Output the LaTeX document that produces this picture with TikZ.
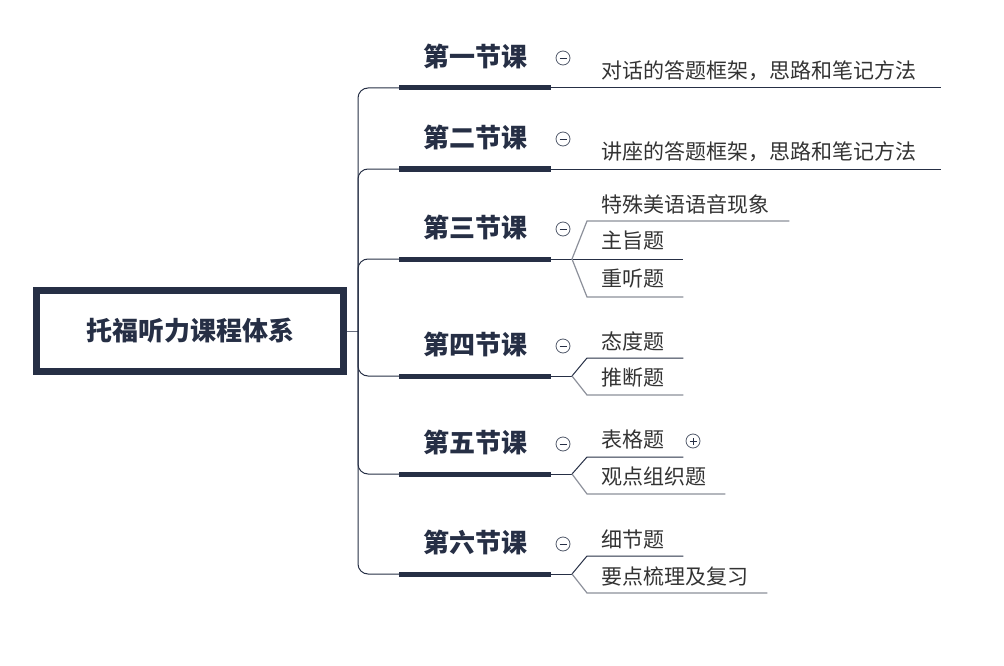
\documentclass[tikz,border=0pt]{standalone}
\usepackage{fontspec}
\newfontfamily\cjk{Noto Sans CJK SC}
\definecolor{navy}{HTML}{262F45}
\definecolor{greyline}{HTML}{8C909A}
\definecolor{txt}{HTML}{333333}
\begin{document}
\begin{tikzpicture}[x=1pt,y=-1pt,
  root/.style={draw=navy,line width=7pt,minimum width=307pt,minimum height=81pt,
    font=\cjk\bfseries\fontsize{26}{26}\selectfont,text=navy},
  lesson/.style={font=\cjk\bfseries\fontsize{26}{26}\selectfont,text=navy,inner sep=0pt},
  topic/.style={font=\cjk\fontsize{21}{21}\selectfont,text=txt,anchor=west,inner sep=0pt},
  trunk/.style={draw=navy,line width=1pt,rounded corners=10pt},
  bar/.style={draw=navy,line width=5pt},
  twig/.style={draw=navy,line width=1pt},
  pale/.style={draw=greyline,line width=1.2pt},
  fold/.style={circle,draw=navy!80,line width=0.8pt,minimum size=14pt,inner sep=0pt,
    path picture={\draw[navy,line width=0.8pt]
      ([xshift=-3.5pt]path picture bounding box.center) --
      ([xshift=3.5pt]path picture bounding box.center);}},
  unfold/.style={fold,path picture={\draw[navy,line width=0.8pt]
      ([xshift=-3.5pt]path picture bounding box.center) --
      ([xshift=3.5pt]path picture bounding box.center)
      ([yshift=-3.5pt]path picture bounding box.center) --
      ([yshift=3.5pt]path picture bounding box.center);}}]
\useasboundingbox (0,0) rectangle (1004,666);

% root and trunk
\node[root] (R) at (190,331) {托福听力课程体系};
\coordinate (J) at (358,331);
\draw[draw=navy!70,line width=1pt] (R.east) -- (J);

% lessons
\foreach \i/\name/\y in {1/第一节课/88,2/第二节课/169,3/第三节课/259,
                         4/第四节课/376,5/第五节课/474,6/第六节课/574}{
  \coordinate (bs\i) at (399,\y);
  \coordinate (be\i) at (551,\y);
  \node[lesson] (L\i) at (475,\y-32) {\name};
  \node[fold] (F\i) at (563,\y-30) {};
  \draw[trunk] (J) |- (bs\i);
  \draw[bar] (bs\i) -- (be\i);
}

% lesson 1 and 2
\node[topic] (t11) at (601,71) {对话的答题框架，思路和笔记方法};
\coordinate (e11) at (941,88);
\draw[twig] (be1) -- (e11);
\node[topic] (t21) at (601,152) {讲座的答题框架，思路和笔记方法};
\coordinate (e21) at (941,169);
\draw[twig] (be2) -- (e21);

% lesson 3
\coordinate (v3) at (572,259);
\node[topic] (t31) at (601,204) {特殊美语语音现象};
\node[topic] (t32) at (601,241) {主旨题};
\node[topic] (t33) at (601,279) {重听题};
\draw[twig] (be3) -- (v3);
\draw[pale] (v3) -- (587,221) -- ([xshift=20pt]t31.east |- 0,221);
\draw[twig] (v3) -- ([xshift=19pt]t32.east |- v3);
\draw[pale] (v3) -- (587,297) -- ([xshift=19pt]t33.east |- 0,297);

% lesson 4
\coordinate (v4) at (572,376);
\node[topic] (t41) at (601,341) {态度题};
\node[topic] (t42) at (601,378) {推断题};
\draw[twig] (be4) -- (v4);
\draw[twig] (v4) -- (587,358) -- ([xshift=19pt]t41.east |- 0,358);
\draw[pale] (v4) -- (587,395) -- ([xshift=19pt]t42.east |- 0,395);

% lesson 5
\coordinate (v5) at (572,474);
\node[topic] (t51) at (601,440) {表格题};
\node[topic] (t52) at (601,477) {观点组织题};
\node[unfold] (P5) at (693,441) {};
\draw[twig] (be5) -- (v5);
\draw[twig] (v5) -- (587,457) -- ([xshift=19pt]t51.east |- 0,457);
\draw[pale] (v5) -- (587,494) -- ([xshift=19pt]t52.east |- 0,494);

% lesson 6
\coordinate (v6) at (572,574);
\node[topic] (t61) at (601,539) {细节题};
\node[topic] (t62) at (601,576) {要点梳理及复习};
\draw[twig] (be6) -- (v6);
\draw[twig] (v6) -- (587,556) -- ([xshift=19pt]t61.east |- 0,556);
\draw[pale] (v6) -- (587,593) -- ([xshift=19pt]t62.east |- 0,593);
\end{tikzpicture}
\end{document}
